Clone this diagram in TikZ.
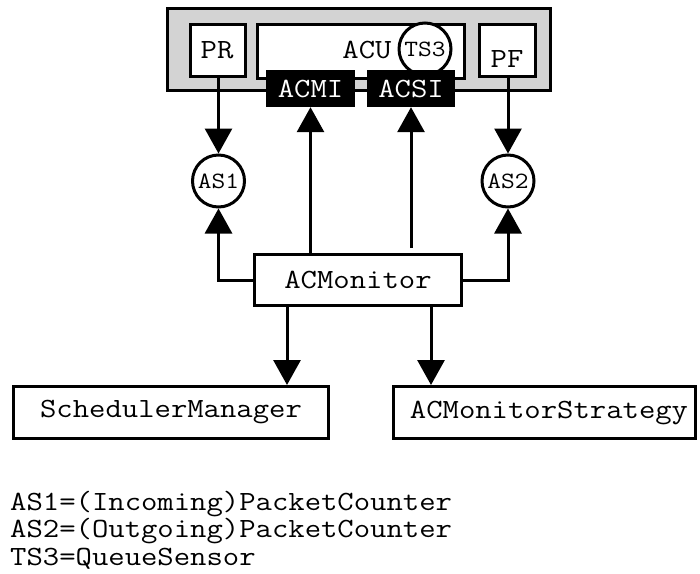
\documentclass[tikz,border=0pt]{standalone}
\usepackage{fontspec}
\newfontfamily\monoface{Latin Modern Mono}[FakeStretch=1.143]
\usetikzlibrary{arrows.meta}
\definecolor{panelgray}{RGB}{211,211,211}
\begin{document}
\begin{tikzpicture}[x=1pt,y=-1pt,
  big/.style={font=\monoface\fontsize{27.8}{30}\selectfont},
  small/.style={font=\monoface\fontsize{23.3}{25}\selectfont},
  box/.style={draw,line width=3pt,fill=white,rectangle,inner sep=0pt,big},
  port/.style={fill=black,text=white,rectangle,inner sep=0pt,minimum width=89pt,minimum height=37pt,big},
  sensor/.style={draw,line width=3pt,circle,fill=white,inner sep=0pt,minimum size=52pt,small},
  arr/.style={line width=3pt,-{Triangle[length=25pt,width=27pt]}},
  legend/.style={inner sep=0pt,anchor=base west,align=left,font=\monoface\fontsize{27.8}{25}\selectfont}
]
\useasboundingbox (0,0) rectangle (700,573);

% access control unit with its sub-components
\node[box,fill=panelgray,minimum width=383pt,minimum height=82pt] (panel) at (359,49.5) {};
\node[box,minimum width=55pt,minimum height=52pt] (pr) at (218,50.5) {};
\node[big] (prtext) at (217,50) {PR};
\node[box,minimum width=207pt,minimum height=54pt] (acu) at (361,51.5) {};
\node[big] (acutext) at (367,50) {ACU};
\node[box,minimum width=56pt,minimum height=52pt] (pf) at (507.5,50.5) {};
\node[big] (pftext) at (507,59) {PF};
\node[sensor] (ts3) at (425,49) {TS3};
\node[port] (acmi) at (310.5,88.5) {ACMI};
\node[port,minimum width=88pt] (acsi) at (411,88.5) {ACSI};

% packet counters
\node[sensor] (as1) at (218.5,181) {AS1};
\node[sensor] (as2) at (508,181) {AS2};

% monitor and its collaborators
\node[box,minimum width=207pt,minimum height=51pt] (mon) at (358,280) {ACMonitor};
\node[box,minimum width=315pt,minimum height=52pt] (sm) at (171,412.5) {SchedulerManager};
\node[box,minimum width=302pt,minimum height=52pt] (ams) at (544.5,412.5) {};
\node[big] (amstext) at (549,412.5) {ACMonitorStrategy};

\coordinate (smx) at (287,0);
\coordinate (amsx) at (431,0);

% connectors
\draw[arr] (pr.south -| as1) -- (as1.north);
\draw[arr] (pf.south -| as2) -- (as2.north);
\draw[arr] (mon.west) -| (as1.south);
\draw[arr] (mon.east) -| (as2.south);
\draw[arr] (mon.north -| acmi.south) -- (acmi.south);
\draw[arr] ([yshift=5pt]mon.north -| acsi.south) -- (acsi.south);
\draw[arr] (mon.south -| smx) -- (sm.north -| smx);
\draw[arr] (mon.south -| amsx) -- (ams.north -| amsx);

% key (base anchor sits on the last line)
\node[legend] (key) at (10,565) {AS1=(Incoming)PacketCounter\\AS2=(Outgoing)PacketCounter\\[3pt]TS3=QueueSensor};
\end{tikzpicture}
\end{document}
